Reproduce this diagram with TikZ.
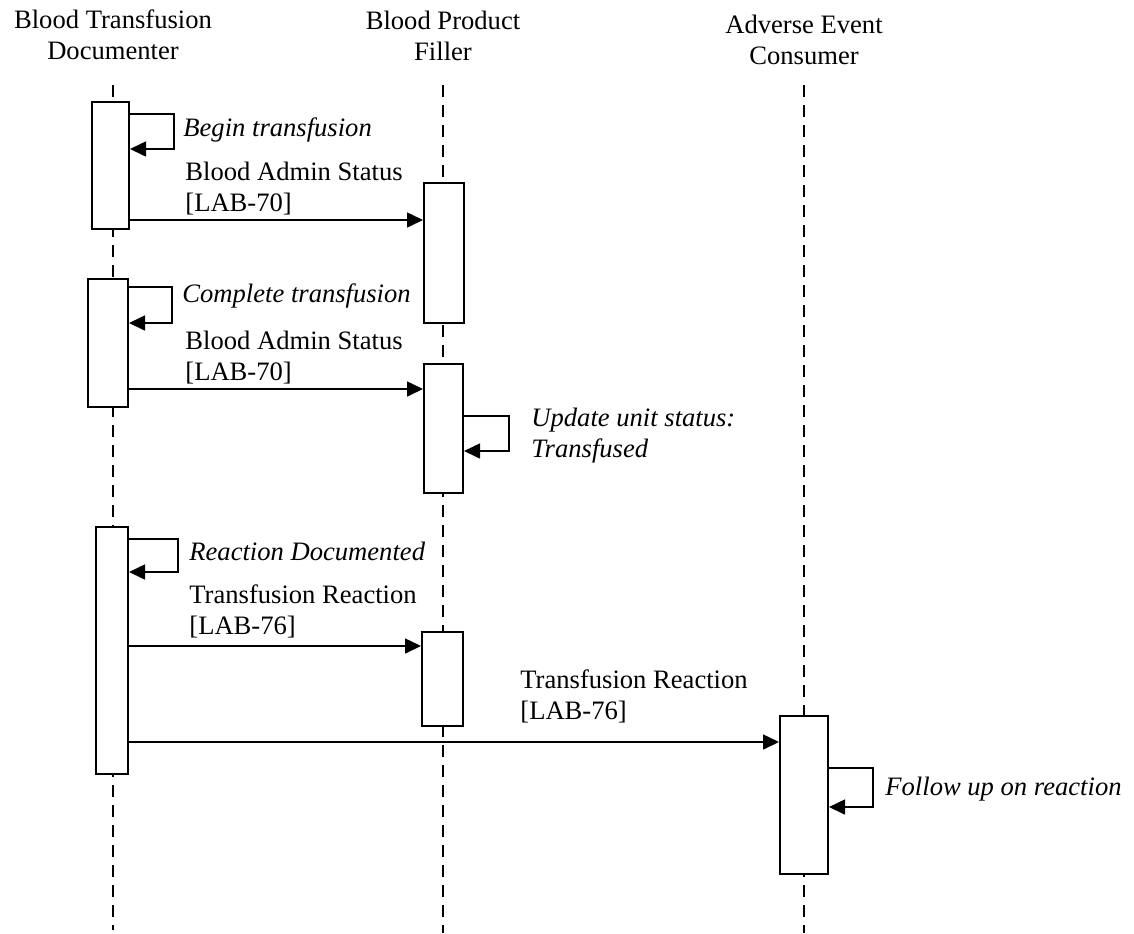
\documentclass[tikz,border=0pt]{standalone}
\usepackage{fontspec}
\setmainfont{Liberation Serif}
\usetikzlibrary{arrows.meta}

\begin{document}
\begin{tikzpicture}[
        x=0.5pt, y=-0.5pt,
        font=\fontsize{13.3}{15.5}\selectfont,
        actor/.style={align=center, inner sep=0pt},
        lifeline/.style={dash pattern=on 6pt off 4pt, line width=0.7pt},
        actbox/.style={rectangle, draw=black, fill=white, line width=1pt, inner sep=0pt},
        msg/.style={-{Triangle[length=8pt, width=7.5pt]}, line width=0.8pt},
        msglabel/.style={anchor=south west, align=left, inner sep=0pt},
        notelabel/.style={anchor=west, align=left, inner sep=0pt, font=\fontsize{13.3}{15.5}\selectfont\itshape}
    ]
    \useasboundingbox (0,0) rectangle (1134,933);

    % Actors and lifelines
    \node (doc) at (113,35) [actor] {Blood Transfusion\\Documenter};
    \node (fil) at (443,36) [actor] {Blood Product\\Filler};
    \node (con) at (804,40) [actor] {Adverse Event\\Consumer};
    \draw[lifeline] (doc.south |- 0,85) -- (doc.south |- 0,930);
    \draw[lifeline] (fil.south |- 0,85) -- (fil.south |- 0,933);
    \draw[lifeline] (con.south |- 0,85) -- (con.south |- 0,933);

    % Activation bars
    \node (act1) at (110.5,165.5) [actbox, minimum width=18.5pt, minimum height=63.5pt] {};
    \node (act2) at (108,343) [actbox, minimum width=20pt, minimum height=64pt] {};
    \node (act3) at (112,650.5) [actbox, minimum width=16pt, minimum height=123.5pt] {};
    \node (fil1) at (444,253) [actbox, minimum width=20pt, minimum height=70pt] {};
    \node (fil2) at (443.5,428.5) [actbox, minimum width=19.5pt, minimum height=64.5pt] {};
    \node (fil3) at (442.5,679) [actbox, minimum width=20.5pt, minimum height=47pt] {};
    \node (con1) at (804,795) [actbox, minimum width=24pt, minimum height=79pt] {};

    % Messages
    \draw[msg] (act1.east |- 0,220) -- (fil1.west |- 0,220);
    \node (m1) at (185,215) [msglabel] {Blood Admin Status\\{[LAB-70]}};
    \draw[msg] (act2.east |- 0,389) -- (fil2.west |- 0,389);
    \node (m2) at (185,384) [msglabel] {Blood Admin Status\\{[LAB-70]}};
    \draw[msg] (act3.east |- 0,646) -- (fil3.west |- 0,646);
    \node (m3) at (189,638) [msglabel] {Transfusion Reaction\\{[LAB-76]}};
    \draw[msg] (act3.east |- 0,742) -- (con1.west |- 0,742);
    \node (m4) at (520,723) [msglabel] {Transfusion Reaction\\{[LAB-76]}};

    % Self calls
    \draw[msg] (act1.east |- 0,114) -- ++(44,0) |- (act1.east |- 0,149);
    \node (s1) at (183,130) [notelabel] {Begin transfusion};
    \draw[msg] (act2.east |- 0,287) -- ++(43,0) |- (act2.east |- 0,323);
    \node (s2) at (182,296) [notelabel] {Complete transfusion};
    \draw[msg] (fil2.east |- 0,416) -- ++(45,0) |- (fil2.east |- 0,451);
    \node (s3) at (531,436) [notelabel] {Update unit status:\\Transfused};
    \draw[msg] (act3.east |- 0,539) -- ++(49,0) |- (act3.east |- 0,572);
    \node (s4) at (189,551) [notelabel] {Reaction Documented};
    \draw[msg] (con1.east |- 0,768) -- ++(44,0) |- (con1.east |- 0,807);
    \node (s5) at (885,789) [notelabel] {Follow up on reaction};
\end{tikzpicture}
\end{document}
